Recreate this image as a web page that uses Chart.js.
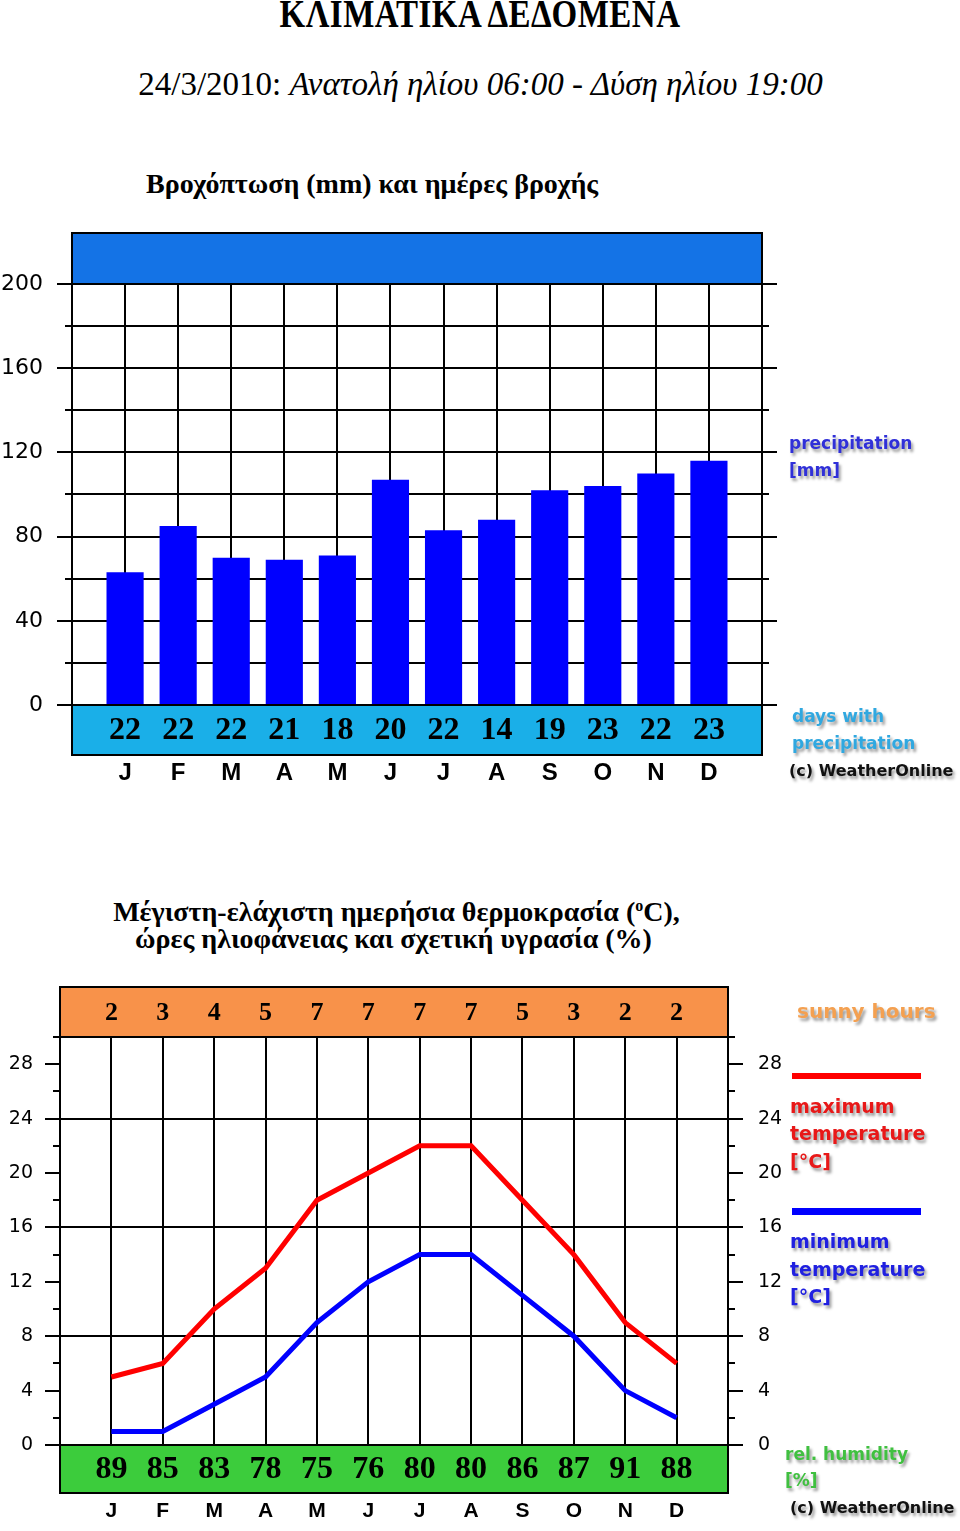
<!DOCTYPE html>
<html>
<head>
<meta charset="utf-8">
<script src="https://cdn.jsdelivr.net/npm/chart.js@4.4.0/dist/chart.umd.min.js"></script>
<style>
body { margin:0; background:#fff; width:960px; height:1531px; position:relative; overflow:hidden; }
.t { position:absolute; white-space:nowrap; font-family:"Liberation Serif","Times New Roman",serif; color:#000; }
.lg { position:absolute; white-space:nowrap; font-family:"DejaVu Sans",sans-serif; font-weight:bold; text-shadow:2px 3px 3px rgba(0,0,0,0.4); line-height:28px; height:28px; font-size:17px; }
.bar { position:absolute; }
canvas { position:absolute; left:0; }
</style>
</head>
<body>

<div class="t" style="left:0;width:960px;text-align:center;top:-6px;font-size:33px;font-weight:bold;line-height:40px;letter-spacing:0.5px;transform:scaleY(1.2);">ΚΛΙΜΑΤΙΚΑ ΔΕΔΟΜΕΝΑ</div>
<div class="t" style="left:0;width:961px;text-align:center;top:64px;font-size:33px;line-height:40px;">24/3/2010: <i>Ανατολή ηλίου 06:00 - Δύση ηλίου 19:00</i></div>
<div class="t" style="left:146px;top:167px;font-size:28px;font-weight:bold;line-height:34px;">Βροχόπτωση (mm) και ημέρες βροχής</div>
<div class="t" style="left:0;width:793px;text-align:center;top:889px;font-size:28px;font-weight:bold;line-height:34px;">Μέγιστη-ελάχιστη ημερήσια θερμοκρασία (<sup style="font-size:16px;">o</sup>C),</div>
<div class="t" style="left:0;width:787px;text-align:center;top:922px;font-size:28px;font-weight:bold;line-height:34px;">ώρες ηλιοφάνειας και σχετική υγρασία (%)</div>

<canvas id="rainChart" width="960" height="580" style="top:220px;"></canvas>
<canvas id="tempChart" width="960" height="571" style="top:960px;"></canvas>

<div class="lg" style="left:789px;top:429px;color:#3030d8;">precipitation</div>
<div class="lg" style="left:789px;top:456px;color:#3030d8;">[mm]</div>
<div class="lg" style="left:792px;top:702px;color:#30a8e0;">days with</div>
<div class="lg" style="left:792px;top:729px;color:#30a8e0;">precipitation</div>
<div class="lg" style="left:789px;top:757px;color:#111;font-size:16px;">(c) WeatherOnline</div>

<div class="lg" style="left:797px;top:997px;color:#f4a050;font-size:20px;">sunny hours</div>
<div class="bar" style="left:792px;top:1073px;width:129px;height:6px;background:#ff0000;"></div>
<div class="lg" style="left:790px;top:1092px;color:#e81818;font-size:19px;">maximum</div>
<div class="lg" style="left:790px;top:1119px;color:#e81818;font-size:19px;">temperature</div>
<div class="lg" style="left:790px;top:1147px;color:#e81818;font-size:19px;">[°C]</div>
<div class="bar" style="left:792px;top:1208px;width:129px;height:7px;background:#0000ff;"></div>
<div class="lg" style="left:790px;top:1227px;color:#2020e0;font-size:19px;">minimum</div>
<div class="lg" style="left:790px;top:1255px;color:#2020e0;font-size:19px;">temperature</div>
<div class="lg" style="left:790px;top:1282px;color:#2020e0;font-size:19px;">[°C]</div>
<div class="lg" style="left:785px;top:1440px;color:#40c040;">rel. humidity</div>
<div class="lg" style="left:785px;top:1466px;color:#40c040;">[%]</div>
<div class="lg" style="left:790px;top:1494px;color:#111;font-size:16px;">(c) WeatherOnline</div>

<script>
var months = ['J', 'F', 'M', 'A', 'M', 'J', 'J', 'A', 'S', 'O', 'N', 'D'];

// precipitation chart
var precipitation = [63, 85, 70, 69, 71, 107, 83, 88, 102, 104, 110, 116];
var rainDays = [22, 22, 22, 21, 18, 20, 22, 14, 19, 23, 22, 23];
var precipTicks = [0, 20, 40, 60, 80, 100, 120, 140, 160, 180, 200];
var precipTickLabels = [0, 40, 80, 120, 160, 200];

// temperature chart
var sunnyHours = [2, 3, 4, 5, 7, 7, 7, 7, 5, 3, 2, 2];
var maxTemp = [5, 6, 10, 13, 18, 20, 22, 22, 18, 14, 9, 6];
var minTemp = [1, 1, 3, 5, 9, 12, 14, 14, 11, 8, 4, 2];
var humidity = [89, 85, 83, 78, 75, 76, 80, 80, 86, 87, 91, 88];
var tempTicks = [0, 2, 4, 6, 8, 10, 12, 14, 16, 18, 20, 22, 24, 26, 28, 30];
var tempTickLabels = [0, 4, 8, 12, 16, 20, 24, 28];
var tempGridLines = [8, 16, 24];


// fixed box sizes, no label overhang padding
function fixSize(w, h) {
    return function(s) {
        if (w !== null) s.width = w;
        if (h !== null) s.height = h;
        s.paddingTop = 0;
        s.paddingBottom = 0;
        s.paddingLeft = 0;
        s.paddingRight = 0;
    };
}

// bands above / below the plot, frame and the short tick marks
var bandsPlugin = {
    id: 'bands',
    afterDraw: function(chart, args, opts) {
        var ctx = chart.ctx;
        var area = chart.chartArea;
        var xs = chart.scales.x;
        var ys = chart.scales.y;
        var w = area.right - area.left;
        var yTop = ys.getPixelForValue(opts.topFrom);
        var yZero = ys.getPixelForValue(0);

        ctx.save();
        ctx.fillStyle = opts.topColor;
        ctx.fillRect(area.left, area.top, w, yTop - area.top);
        ctx.fillStyle = opts.bottomColor;
        ctx.fillRect(area.left, yZero, w, area.bottom - yZero);

        ctx.fillStyle = '#000';
        ctx.textAlign = 'center';
        ctx.textBaseline = 'middle';
        if (opts.topLabels) {
            ctx.font = opts.topFont;
            opts.topLabels.forEach(function(v, i) {
                ctx.fillText(String(v), xs.getPixelForValue(i), (area.top + yTop) / 2 + 1);
            });
        }
        ctx.font = opts.bottomFont;
        opts.bottomLabels.forEach(function(v, i) {
            ctx.fillText(String(v), xs.getPixelForValue(i), (yZero + area.bottom) / 2 + 1);
        });

        ctx.strokeStyle = '#000';
        ctx.lineWidth = 2;
        ctx.strokeRect(area.left, area.top, w, area.bottom - area.top);
        ctx.beginPath();
        ctx.moveTo(area.left, yTop); ctx.lineTo(area.right, yTop);
        ctx.moveTo(area.left, yZero); ctx.lineTo(area.right, yZero);

        ys.ticks.forEach(function(t) {
            var py = Math.round(ys.getPixelForValue(t.value));
            var len = opts.majorTicks.indexOf(t.value) >= 0 ? 15 : 7;
            ctx.moveTo(area.left - len, py); ctx.lineTo(area.left, py);
            ctx.moveTo(area.right, py); ctx.lineTo(area.right + len, py);
        });
        ctx.stroke();
        ctx.restore();
    }
};


var rainChart = new Chart(document.getElementById('rainChart'), {
    type: 'bar',
    data: {
        datasets: [{
            label: 'precipitation [mm]',
            data: precipitation.map(function(v, i) { return {x: i, y: v}; }),
            backgroundColor: '#0000ff',
            barPercentage: 0.7,
            categoryPercentage: 1
        }]
    },
    options: {
        responsive: false,
        animation: false,
        layout: { padding: { top: 13, left: 0, right: 0, bottom: 0 } },
        plugins: {
            legend: { display: false },
            tooltip: { enabled: false },
            bands: {
                topFrom: 200,
                topColor: '#1473e6',
                bottomColor: '#1aafe8',
                topLabels: null,
                bottomLabels: rainDays,
                bottomFont: 'bold 32px "Liberation Serif"',
                majorTicks: precipTickLabels
            }
        },
        scales: {
            x: {
                type: 'linear', min: -1, max: 12, offset: false, z: 1,
                afterBuildTicks: function(s) { s.ticks = months.map(function(m, i) { return {value: i}; }); },
                afterFit: fixSize(null, 45),
                grid: { color: '#000', lineWidth: 2, drawTicks: false, offset: false },
                border: { display: false },
                ticks: {
                    padding: 4, autoSkip: false, maxRotation: 0, color: '#000',
                    font: { family: 'Liberation Sans', size: 24, weight: 'bold' },
                    callback: function(v) { return months[v]; }
                }
            },
            y: {
                min: -23.75, max: 224.2, z: 1,
                afterBuildTicks: function(s) { s.ticks = precipTicks.map(function(v) { return {value: v}; }); },
                afterFit: fixSize(72, null),
                grid: { color: '#000', lineWidth: 2, drawTicks: false },
                border: { display: false },
                ticks: {
                    padding: 29, autoSkip: false, color: '#000',
                    font: { family: 'DejaVu Sans', size: 22 },
                    callback: function(v) { return precipTickLabels.indexOf(v) >= 0 ? String(v) : ''; }
                }
            },
            yR: {
                position: 'right', min: -23.75, max: 224.2,
                afterBuildTicks: function(s) { s.ticks = precipTicks.map(function(v) { return {value: v}; }); },
                afterFit: fixSize(198, null),
                grid: { display: false },
                border: { display: false },
                ticks: { display: false }
            }
        }
    },
    plugins: [bandsPlugin]
});


var tempChart = new Chart(document.getElementById('tempChart'), {
    type: 'line',
    data: {
        datasets: [{
            label: 'maximum temperature',
            data: maxTemp.map(function(v, i) { return {x: i, y: v}; }),
            borderColor: '#ff0000',
            borderWidth: 5,
            pointRadius: 0,
            tension: 0,
            fill: false
        }, {
            label: 'minimum temperature',
            data: minTemp.map(function(v, i) { return {x: i, y: v}; }),
            borderColor: '#0000ff',
            borderWidth: 5,
            pointRadius: 0,
            tension: 0,
            fill: false
        }]
    },
    options: {
        responsive: false,
        animation: false,
        layout: { padding: { top: 27, left: 0, right: 0, bottom: 0 } },
        plugins: {
            legend: { display: false },
            tooltip: { enabled: false },
            bands: {
                topFrom: 30,
                topColor: '#f8924a',
                bottomColor: '#3ccc3c',
                topLabels: sunnyHours,
                topFont: 'bold 26px "Liberation Serif"',
                bottomLabels: humidity,
                bottomFont: 'bold 32px "Liberation Serif"',
                majorTicks: tempTickLabels
            }
        },
        scales: {
            x: {
                type: 'linear', min: -1, max: 12, offset: false,
                afterBuildTicks: function(s) { s.ticks = months.map(function(m, i) { return {value: i}; }); },
                afterFit: fixSize(null, 38),
                grid: { color: '#000', lineWidth: 2, drawTicks: false, offset: false },
                border: { display: false },
                ticks: {
                    padding: 6, autoSkip: false, maxRotation: 0, color: '#000',
                    font: { family: 'Liberation Sans', size: 21, weight: 'bold' },
                    callback: function(v) { return months[v]; }
                }
            },
            y: {
                min: -3.53, max: 33.68,
                afterBuildTicks: function(s) { s.ticks = tempTicks.map(function(v) { return {value: v}; }); },
                afterFit: fixSize(60, null),
                grid: {
                    lineWidth: 2, drawTicks: false,
                    color: function(c) { return tempGridLines.indexOf(c.tick.value) >= 0 ? '#000' : 'rgba(0,0,0,0)'; }
                },
                border: { display: false },
                ticks: {
                    padding: 27, autoSkip: false, color: '#000',
                    font: { family: 'DejaVu Sans', size: 19 },
                    callback: function(v) { return tempTickLabels.indexOf(v) >= 0 ? String(v) : ''; }
                }
            },
            yR: {
                position: 'right', min: -3.53, max: 33.68,
                afterBuildTicks: function(s) { s.ticks = tempTicks.map(function(v) { return {value: v}; }); },
                afterFit: fixSize(232, null),
                grid: { display: false },
                border: { display: false },
                ticks: {
                    padding: 22, autoSkip: false, color: '#000',
                    font: { family: 'DejaVu Sans', size: 19 },
                    callback: function(v) { return tempTickLabels.indexOf(v) >= 0 ? String(v) : ''; }
                }
            }
        }
    },
    plugins: [bandsPlugin]
});
</script>
</body>
</html>
